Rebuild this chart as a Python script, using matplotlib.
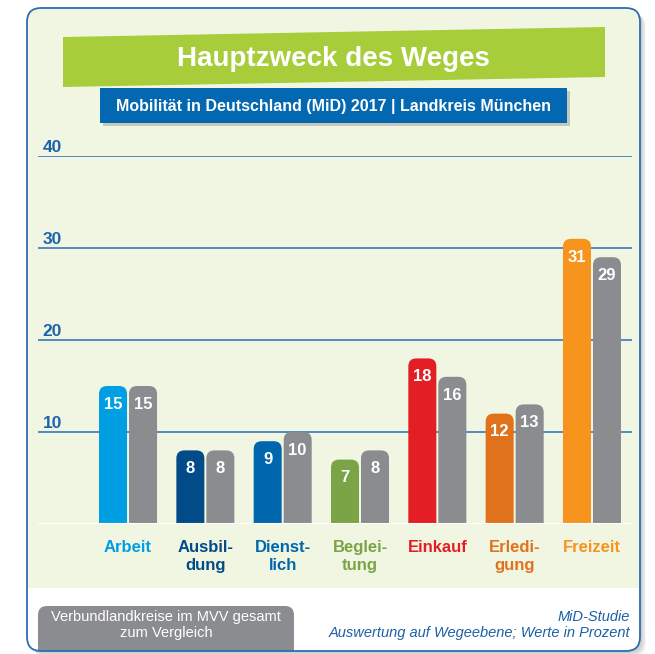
import matplotlib.pyplot as plt
from matplotlib.patches import FancyBboxPatch, Polygon, Rectangle
from matplotlib import transforms

plt.rcParams["font.family"] = ["Liberation Sans", "DejaVu Sans"]

kategorien = ["Arbeit", "Ausbil-\ndung", "Dienst-\nlich", "Beglei-\ntung",
              "Einkauf", "Erledi-\ngung", "Freizeit"]
landkreis = [15, 8, 9, 7, 18, 12, 31]
mvv_gesamt = [15, 8, 10, 8, 16, 13, 29]
farben = ["#009FE3", "#004B88", "#0067AC", "#7AA446",
          "#E31E24", "#E1721C", "#F7941D"]
grau = "#8B8C90"
yticks = [10, 20, 30, 40]

W, H = 655, 654
fig = plt.figure(figsize=(W / 100, H / 100), dpi=100)

# Hintergrund in Pixelkoordinaten
bg = fig.add_axes([0, 0, 1, 1])
bg.set_xlim(0, W)
bg.set_ylim(H, 0)
bg.axis("off")

for k in range(5):
    sh = FancyBboxPatch((29 + k, 10 + k), 613, 643, boxstyle="round,pad=0,rounding_size=14",
                        fc="#000000", ec="none", alpha=0.04)
    bg.add_patch(sh)
box = FancyBboxPatch((27, 8), 613, 643, boxstyle="round,pad=0,rounding_size=14",
                     fc="white", ec="none")
bg.add_patch(box)
gruen = Rectangle((20, 0), 630, 588, fc="#F1F6E3", ec="none")
bg.add_patch(gruen)
gruen.set_clip_path(box)

# Titelband
bg.add_patch(Polygon([(63, 37), (605, 27), (605, 77), (63, 87)], closed=True,
                     fc="#A7CD3A", ec="none"))
bg.text(333, 59, "Hauptzweck des Weges", color="white", fontsize=20,
        fontweight="bold", ha="center", va="center")
bg.add_patch(Rectangle((103, 91), 467, 35, fc="#000000", alpha=0.18, ec="none"))
bg.add_patch(Rectangle((100, 88), 467, 35, fc="#0467B1", ec="none"))
bg.text(333, 106, "Mobilität in Deutschland (MiD) 2017 | Landkreis München",
        color="white", fontsize=11.5, fontweight="bold", ha="center", va="center")

# Fußzeile
fuss = FancyBboxPatch((38, 606), 256, 70, boxstyle="round,pad=0,rounding_size=9",
                      fc=grau, ec="none")
bg.add_patch(fuss)
fuss.set_clip_path(box)
bg.text(166, 625, "Verbundlandkreise im MVV gesamt\nzum Vergleich", color="white",
        fontsize=10.5, ha="center", va="center", linespacing=1.15)
bg.text(630, 625, "MiD-Studie\nAuswertung auf Wegeebene; Werte in Prozent",
        color="#1C5FA8", fontsize=10.5, style="italic", ha="right", va="center",
        linespacing=1.15)
bg.add_patch(FancyBboxPatch((27, 8), 613, 643, boxstyle="round,pad=0,rounding_size=14",
                            fc="none", ec="#2D6DB5", lw=1.3))

# Diagramm
px_links, px_rechts, px_null, px_oben = 38, 632, 524, 156
ax = fig.add_axes([px_links / W, (H - px_null) / H,
                   (px_rechts - px_links) / W, (px_null - px_oben) / H])
ax.patch.set_alpha(0)
abstand = 77.3
ax.set_xlim(-(128 - px_links) / abstand, 6 + (px_rechts - 592) / abstand)
ax.set_ylim(0, 40)
ax.axis("off")

y_px = (px_null - px_oben) / 40
for t in yticks:
    ax.axhline(t, color="#3478BC", lw=1.2, zorder=1)
ax.axhline(0, color="white", lw=1.5, zorder=3)
trans = transforms.blended_transform_factory(ax.transAxes, ax.transData)
for t in yticks:
    ax.text(0.008, t + 0.45, str(t), transform=trans, color="#1C63AE",
            fontsize=12.5, fontweight="bold", ha="left", va="baseline")

bw = 28 / abstand
gap = 1 / abstand
rund = 8 / abstand
aspekt = abstand / y_px
for i, (a, b, c) in enumerate(zip(landkreis, mvv_gesamt, farben)):
    for x0, v, col in [(i - gap - bw, a, c), (i + gap, b, grau)]:
        p = FancyBboxPatch((x0, -2), bw, v + 2,
                           boxstyle="round,pad=0,rounding_size=%f" % rund,
                           mutation_aspect=aspekt, fc=col, ec="none", zorder=2)
        ax.add_patch(p)
        ax.text(x0 + bw / 2, v - 2.0, str(v), color="white", fontsize=12,
                fontweight="bold", ha="center", va="center", zorder=4)
    ax.text(i, -1.7, kategorien[i], color=c, fontsize=12, fontweight="bold",
            ha="center", va="top", linespacing=1.3, clip_on=False)

fig.savefig("out.png", dpi=100)
